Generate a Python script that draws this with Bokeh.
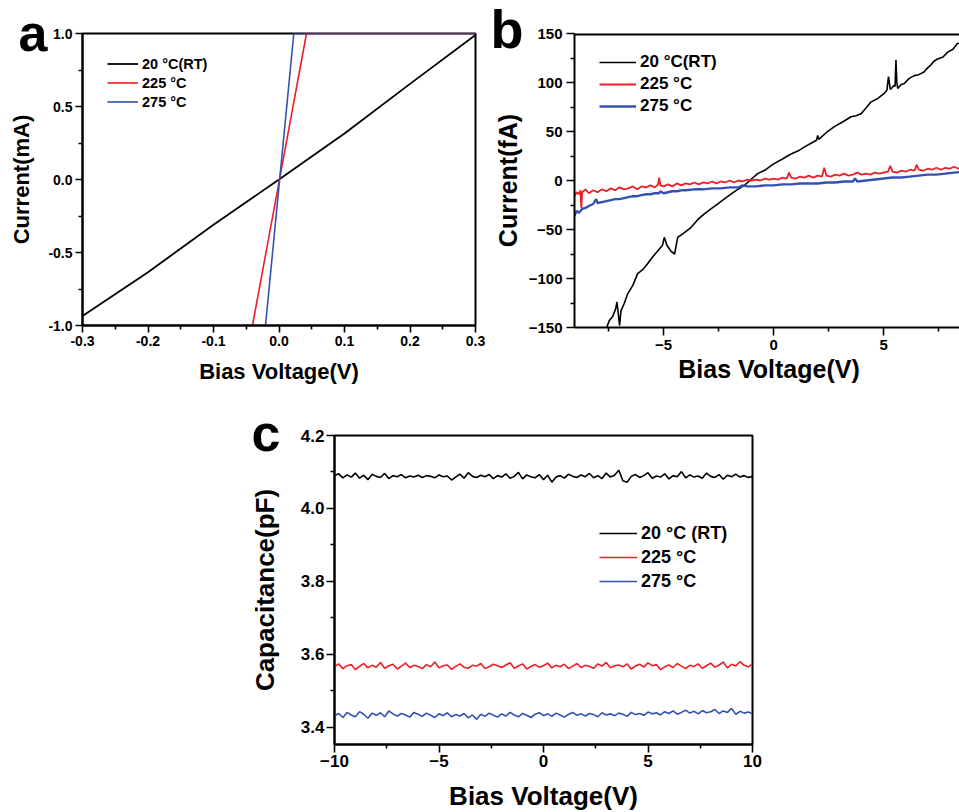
import numpy as np
from bokeh.plotting import figure
from bokeh.layouts import column, row
from bokeh.models import (Title, Legend, LegendItem, FixedTicker, PrintfTickFormatter,
                          Range1d, Spacer, Span)
from bokeh.embed import file_html
from bokeh.resources import INLINE

FONT = "Liberation Sans"
BLACK, RED, BLUE = "#000000", "#ec1f26", "#3451b2"
series_names = ["20 \u00b0C(RT)", "225 \u00b0C", "275 \u00b0C"]
series_names_c = ["20 \u00b0C (RT)", "225 \u00b0C", "275 \u00b0C"]
panel_letters = ["a", "b", "c"]

# ---------------- panel a : I-V, mA ----------------
a_v_20 = [-0.3, -0.2, -0.1, 0.0, 0.1, 0.2, 0.3]
a_i_20 = [-0.935, -0.635, -0.31, 0.0, 0.315, 0.655, 0.99]
a_v_225 = [-0.3, -0.0405, 0.042, 0.3]
a_i_225 = [-1.0, -1.0, 1.0, 1.0]
a_v_275 = [-0.3, -0.0206, 0.0226, 0.3]
a_i_275 = [-1.0, -1.0, 1.0, 1.0]
a_xticks = [-0.3, -0.2, -0.1, 0.0, 0.1, 0.2, 0.3]
a_xminor = [-0.25, -0.15, -0.05, 0.05, 0.15, 0.25]
a_yticks = [-1.0, -0.5, 0.0, 0.5, 1.0]
a_yminor = [-0.75, -0.25, 0.25, 0.75]

# ---------------- panel b : I-V, fA ----------------
b_v_20 = [-7.62, -7.47, -7.32, -7.18, -7.12, -7.0, -6.94, -6.8, -6.64, -6.4, -6.18, -5.95,
          -5.73, -5.5, -5.27, -5.05, -4.97, -4.85, -4.67, -4.5, -4.36, -4.1, -3.76, -3.45,
          -3.15, -2.85, -2.55, -2.25, -1.94, -1.63, -1.33, -1.03, -0.73, -0.36, 0.0, 0.4,
          0.79, 1.1, 1.39, 1.7, 1.95, 2.0, 2.05, 2.4, 2.76, 3.15, 3.52, 3.75, 3.97, 4.2,
          4.42, 4.75, 5.03, 5.15, 5.22, 5.26, 5.3, 5.36, 5.46, 5.52, 5.56, 5.6, 5.64, 5.8,
          5.94, 6.15, 6.39, 6.6, 6.85, 7.0, 7.15, 7.3, 7.45, 7.7, 7.91, 8.15, 8.36, 8.5,
          8.59, 8.8, 9.0]
b_i_20 = [-152, -143, -139, -131, -124, -148, -133, -126, -116, -107, -95, -91,
          -85, -78, -72, -66, -58, -66, -72, -75, -58, -54, -48, -40,
          -34, -29, -24, -19, -14, -9, -5, 1, 7, 11, 17, 22,
          27, 30, 34, 38, 41, 46, 42, 49, 55, 60, 65, 66, 68, 74,
          80, 84, 89, 92, 106, 100, 93, 94, 97, 96, 123, 100, 94, 98,
          99, 104, 107, 108, 111, 115, 118, 122, 124, 126, 131, 134, 140, 139,
          138, 140, 142]
b_v_225 = [-9.05, -8.95, -8.85, -8.78, -8.74, -8.7, -8.55, -8.4, -8.2, -8.0, -7.8, -7.6,
           -7.4, -7.2, -7.0, -6.8, -6.6, -6.4, -6.2, -6.0, -5.8, -5.6, -5.4, -5.25, -5.2,
           -5.15, -5.0, -4.8, -4.6, -4.4, -4.2, -4.0, -3.8, -3.6, -3.4, -3.2, -3.0, -2.8,
           -2.6, -2.4, -2.2, -2.0, -1.8, -1.6, -1.4, -1.2, -1.0, -0.8, -0.6, -0.4, -0.2,
           0.0, 0.2, 0.4, 0.6, 0.7, 0.8, 1.0, 1.2, 1.4, 1.6, 1.8, 2.0, 2.2, 2.3, 2.4, 2.6,
           2.8, 3.0, 3.2, 3.4, 3.6, 3.8, 4.0, 4.2, 4.4, 4.6, 4.8, 5.0, 5.2, 5.3, 5.4, 5.6,
           5.8, 6.0, 6.2, 6.4, 6.5, 6.6, 6.8, 7.0, 7.2, 7.4, 7.6, 7.8, 8.0, 8.2, 8.4, 8.6,
           8.8, 9.0]
b_i_225 = [-16, -12, -14, -10, -28, -12, -9, -13, -10, -12, -9, -11,
           -8, -10, -7, -9, -8, -6, -9, -6, -7, -5, -7, -4, 3,
           -5, -6, -4, -6, -3, -5, -3, -4, -2, -4, -2, -3, -1,
           -3, -1, -2, 0, -2, 0, -1, 1, 0, 1, 0, 2, 1,
           2, 1, 3, 2, 8, 3, 2, 4, 3, 5, 3, 5, 4, 13, 5, 4,
           6, 5, 7, 5, 6, 8, 6, 7, 6, 8, 7, 8, 9, 15, 9, 8,
           10, 9, 11, 10, 16, 11, 10, 12, 11, 13, 11, 13, 12, 14, 12, 14,
           13, 14]
b_v_275 = [-9.05, -8.95, -8.85, -8.7, -8.55, -8.4, -8.2, -8.07, -8.0, -7.8, -7.6, -7.4,
           -7.2, -7.0, -6.8, -6.6, -6.4, -6.2, -6.0, -5.8, -5.6, -5.4, -5.2, -5.15, -5.0,
           -4.8, -4.6, -4.4, -4.2, -4.0, -3.6, -3.2, -2.8, -2.4, -2.0, -1.6, -1.4, -1.2,
           -0.8, -0.4, 0.0, 0.4, 0.8, 1.2, 1.6, 2.0, 2.4, 2.8, 3.2, 3.6, 3.7, 3.8, 4.2,
           4.6, 5.0, 5.4, 5.8, 6.2, 6.6, 7.0, 7.4, 7.8, 8.2, 8.6, 9.0]
b_i_275 = [-36, -31, -33, -29, -28, -26, -24, -19, -23, -22, -21, -20,
           -19, -19, -18, -17, -16, -16, -15, -14, -14, -13, -13, -11, -13,
           -12, -11, -11, -10, -10, -9, -9, -8, -8, -7, -7, -5, -6,
           -6, -5, -5, -4, -4, -3, -3, -3, -2, -2, -1, -1, 2, -1, 0,
           1, 2, 3, 3, 4, 5, 6, 6, 7, 8, 9, 10]
b_xticks = [-5, 0, 5]
b_xminor = [-7.5, -2.5, 2.5, 7.5]
b_yticks = [-150, -100, -50, 0, 50, 100, 150]
b_yminor = [-125, -75, -25, 25, 75, 125]

# ---------------- panel c : C-V ----------------
c_20 = [4.090, 4.095, 4.084, 4.092, 4.086, 4.097, 4.083, 4.091, 4.079, 4.094,
        4.088, 4.085, 4.096, 4.082, 4.090, 4.087, 4.093, 4.084, 4.089, 4.086,
        4.091, 4.085, 4.090, 4.088, 4.084, 4.092, 4.087, 4.089, 4.078, 4.086,
        4.094, 4.083, 4.098, 4.088, 4.085, 4.091, 4.087, 4.093, 4.082, 4.090,
        4.086, 4.095, 4.083, 4.088, 4.099, 4.081, 4.092, 4.087, 4.084, 4.093,
        4.079, 4.091, 4.072, 4.086, 4.090, 4.083, 4.094, 4.088, 4.085, 4.092,
        4.087, 4.096, 4.084, 4.090, 4.082, 4.097, 4.086, 4.091, 4.105, 4.076,
        4.072, 4.088, 4.093, 4.085, 4.090, 4.098, 4.083, 4.089, 4.086, 4.095,
        4.081, 4.090, 4.087, 4.101, 4.084, 4.092, 4.086, 4.089, 4.083, 4.097,
        4.088, 4.085, 4.093, 4.080, 4.091, 4.087, 4.094, 4.086, 4.090, 4.085, 4.088]
c_225 = [3.566, 3.574, 3.561, 3.569, 3.572, 3.558, 3.567, 3.575, 3.563, 3.570,
         3.565, 3.578, 3.562, 3.569, 3.573, 3.560, 3.568, 3.576, 3.564, 3.570,
         3.567, 3.561, 3.572, 3.566, 3.579, 3.563, 3.569, 3.571, 3.559, 3.567,
         3.574, 3.565, 3.562, 3.570, 3.568, 3.575, 3.561, 3.566, 3.573, 3.569,
         3.564, 3.571, 3.577, 3.562, 3.568, 3.574, 3.560, 3.567, 3.572, 3.565,
         3.569, 3.576, 3.563, 3.570, 3.566, 3.573, 3.561, 3.568, 3.575, 3.564,
         3.570, 3.567, 3.562, 3.574, 3.568, 3.578, 3.563, 3.569, 3.571, 3.566,
         3.574, 3.560, 3.568, 3.573, 3.565, 3.577, 3.569, 3.572, 3.558, 3.566,
         3.571, 3.564, 3.575, 3.568, 3.561, 3.570, 3.567, 3.574, 3.562, 3.569,
         3.576, 3.565, 3.571, 3.579, 3.563, 3.573, 3.568, 3.580, 3.570, 3.566, 3.574]
c_275 = [3.432, 3.438, 3.427, 3.441, 3.434, 3.429, 3.443, 3.436, 3.425, 3.439,
         3.433, 3.440, 3.429, 3.445, 3.437, 3.431, 3.438, 3.434, 3.428, 3.441,
         3.436, 3.430, 3.439, 3.433, 3.427, 3.437, 3.432, 3.440, 3.429, 3.435,
         3.431, 3.438, 3.426, 3.434, 3.422, 3.436, 3.430, 3.439, 3.433, 3.428,
         3.437, 3.431, 3.441, 3.434, 3.429, 3.438, 3.433, 3.427, 3.436, 3.440,
         3.432, 3.437, 3.430, 3.439, 3.434, 3.428, 3.436, 3.441, 3.433, 3.437,
         3.431, 3.438, 3.435, 3.429, 3.440, 3.434, 3.437, 3.432, 3.439, 3.436,
         3.430, 3.441, 3.435, 3.438, 3.433, 3.442, 3.437, 3.440, 3.434, 3.443,
         3.438, 3.445, 3.436, 3.441, 3.447, 3.439, 3.444, 3.437, 3.446, 3.440,
         3.443, 3.449, 3.438, 3.445, 3.441, 3.452, 3.436, 3.444, 3.439, 3.442, 3.437]
c_xticks = [-10, -5, 0, 5, 10]
c_xminor = [-7.5, -2.5, 2.5, 7.5]
c_yticks = [3.4, 3.6, 3.8, 4.0, 4.2]
c_yminor = [3.5, 3.7, 3.9, 4.1]

x_title = "Bias Voltage(V)"
a_y_title = "Current(mA)"
b_y_title = "Current(fA)"
c_y_title = "Capacitance(pF)"


def style(p, tick_size, tick_out, standoff, xt, xm, yt, ym, title_size,
          xstand, ystand, fmt=None):
    p.grid.visible = False
    p.background_fill_color = "white"
    p.border_fill_color = "white"
    p.xaxis.ticker = FixedTicker(ticks=xt, minor_ticks=xm)
    p.yaxis.ticker = FixedTicker(ticks=yt, minor_ticks=ym)
    for ax in list(p.xaxis) + list(p.yaxis):
        ax.axis_line_width = 2
        ax.axis_line_color = "black"
        ax.major_tick_in = 0
        ax.major_tick_out = tick_out
        ax.minor_tick_in = 0
        ax.minor_tick_out = 4
        ax.major_tick_line_width = 1.6
        ax.minor_tick_line_width = 1.6
        ax.major_label_text_font = FONT
        ax.major_label_text_font_style = "bold"
        ax.major_label_text_font_size = tick_size
        ax.major_label_text_color = "black"
        ax.major_label_standoff = standoff
        ax.axis_label_text_font = FONT
        ax.axis_label_text_font_style = "bold"
        ax.axis_label_text_font_size = title_size
        ax.axis_label_text_color = "black"
        if fmt:
            ax.formatter = PrintfTickFormatter(format=fmt)
    p.xaxis.axis_label_standoff = xstand
    p.yaxis.axis_label_standoff = ystand


def legend(p, items, loc, gw, h, size):
    lg = Legend(items=items, location=loc, glyph_width=gw, glyph_height=h, label_height=h,
                label_standoff=4, spacing=0, padding=0, margin=0,
                label_text_font=FONT, label_text_font_style="bold", label_text_color="black",
                label_text_font_size=size, border_line_alpha=0, background_fill_alpha=0)
    p.add_layout(lg)


def letter(p, s, size, offset, standoff):
    p.add_layout(Title(text=s, align="left", vertical_align="bottom", offset=offset,
                       standoff=standoff, text_font=FONT, text_font_style="bold",
                       text_font_size=size, text_color="black"), "above")


# ---- panel a
pa = figure(frame_width=393, frame_height=292, min_border_left=82, min_border_right=15,
            min_border_top=33, min_border_bottom=75, x_range=Range1d(-0.3, 0.3),
            y_range=Range1d(-1.0, 1.0), output_backend="svg", toolbar_location=None,
            x_axis_label=x_title, y_axis_label=a_y_title)
ra1 = pa.line(a_v_20, a_i_20, line_color=BLACK, line_width=1.8)
ra2 = pa.line(a_v_225, a_i_225, line_color=RED, line_width=1.6)
ra3 = pa.line(a_v_275, a_i_275, line_color=BLUE, line_width=1.6)
style(pa, "14px", 7, 3, a_xticks, a_xminor, a_yticks, a_yminor, "22px", 10, 11, "%.1f")
pa.outline_line_color = "black"
pa.outline_line_width = 2
legend(pa, [LegendItem(label=series_names[i], renderers=[r]) for i, r in enumerate([ra1, ra2, ra3])],
       (25, 214), 31, 19, "14.5px")
letter(pa, panel_letters[0], "52px", -64, -56)

# ---- panel b
pb = figure(frame_width=389, frame_height=294, min_border_left=80, min_border_right=0,
            min_border_top=33, min_border_bottom=73, x_range=Range1d(-9.05, 8.63),
            y_range=Range1d(-150, 150), output_backend="svg", toolbar_location=None,
            x_axis_label=x_title, y_axis_label=b_y_title)
rb1 = pb.line(b_v_20, b_i_20, line_color=BLACK, line_width=1.6)
rb2 = pb.line(b_v_225, b_i_225, line_color=RED, line_width=1.8)
rb3 = pb.line(b_v_275, b_i_275, line_color=BLUE, line_width=2.4)
style(pb, "15px", 8, 4, b_xticks, b_xminor, b_yticks, b_yminor, "25px", 2, 4)
pb.outline_line_color = None
pb.add_layout(Span(location=150, dimension="width", line_color="black", line_width=4))
legend(pb, [LegendItem(label=series_names[i], renderers=[r]) for i, r in enumerate([rb1, rb2, rb3])],
       (25, 210), 37, 22, "17px")
letter(pb, panel_letters[1], "54px", -84, -51)

# ---- panel c
c_v = np.linspace(-10, 10, len(c_20))
pc = figure(frame_width=418, frame_height=309, min_border_left=94, min_border_right=20,
            min_border_top=35, min_border_bottom=68, x_range=Range1d(-10, 10),
            y_range=Range1d(3.353, 4.2), output_backend="svg", toolbar_location=None,
            x_axis_label=x_title, y_axis_label=c_y_title)
rc1 = pc.line(c_v, c_20, line_color=BLACK, line_width=1.6)
rc2 = pc.line(np.linspace(-10, 10, len(c_225)), c_225, line_color=RED, line_width=1.6)
rc3 = pc.line(np.linspace(-10, 10, len(c_275)), c_275, line_color=BLUE, line_width=1.6)
style(pc, "17px", 8, 2, c_xticks, c_xminor, c_yticks, c_yminor, "26px", 11, 18)
pc.yaxis.formatter = PrintfTickFormatter(format="%.1f")
pc.outline_line_color = "black"
pc.outline_line_width = 2
legend(pc, [LegendItem(label=series_names_c[i], renderers=[r]) for i, r in enumerate([rc1, rc2, rc3])],
       (265, 151), 38, 24, "18px")
letter(pc, panel_letters[2], "52px", -83, -52)

layout = column(row(pa, pb), row(Spacer(width=240, height=10), pc))
open("out.html", "w").write(file_html(layout, INLINE))
